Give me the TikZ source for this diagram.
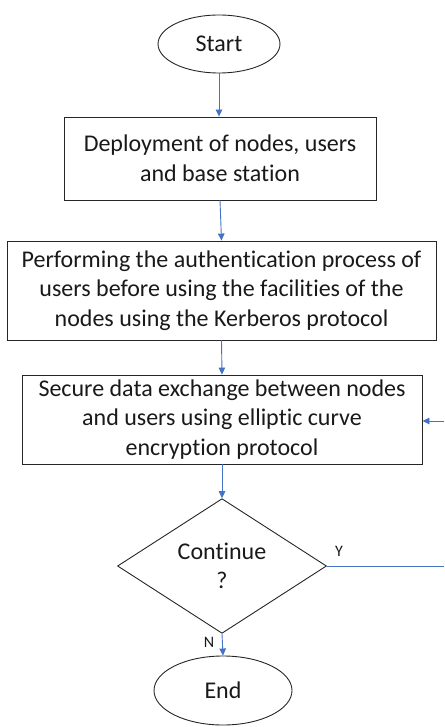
\documentclass[tikz,border=0pt]{standalone}
\usepackage{fontspec}
\setmainfont[Ligatures=NoCommon]{Carlito}
\usetikzlibrary{shapes.geometric,arrows.meta}
\begin{document}
\begin{tikzpicture}[x=1pt,y=-1pt,
  txt/.style={font=\fontsize{24}{29.5}\selectfont,align=center,text=black!90},
  stepbox/.style={txt,draw=black!85,line width=0.9pt,rectangle,inner sep=0pt},
  term/.style={txt,draw=black!85,line width=0.9pt,ellipse,inner sep=0pt},
  decide/.style={txt,draw=black!85,line width=0.9pt,diamond,inner sep=0pt},
  flow/.style={draw={rgb,255:red,68;green,114;blue,196},line width=0.9pt},
  arr/.style={flow,-{Triangle[length=7pt,width=6.5pt]}},
  lbl/.style={font=\fontsize{16}{18}\selectfont,text=black!90}
]
\useasboundingbox (0,0) rectangle (444,727);
\node[term,minimum width=122pt,minimum height=58pt] (start) at (219,44) {Start};
\node[stepbox,minimum width=312pt,minimum height=83pt] (b1) at (220,158.5)
  {Deployment of nodes, users\\and base station};
\node[stepbox,minimum width=429pt,minimum height=99pt] (b2) at (221.5,290.5)
  {Performing the authentication process of\\users before using the facilities of the\\nodes using the Kerberos protocol};
\node[stepbox,minimum width=400pt,minimum height=89pt] (b3) at (222,419.5)
  {Secure data exchange between nodes\\and users using elliptic curve\\encryption protocol};
\node[decide,minimum width=209pt,minimum height=116pt] (d) at (222,566)
  {Continue\\?};
\node[term,minimum width=138pt,minimum height=69pt] (end) at (223,690.5) {End};
\coordinate (yout) at (444,566);
\coordinate (yin) at (444,421);
\draw[arr] (start.south) -- (start.south |- b1.north);
\draw[arr] (b1.south) -- (b2.north);
\draw[arr] (b2.south) -- (b3.north);
\draw[arr] (b3.south) -- (d.north);
\draw[arr] (d.south) -- (end.north);
\draw[flow] (d.east) -- (yout);
\draw[arr] (yin) -- (b3.east |- yin);
\node[lbl] (ylbl) at (339,551) {Y};
\node[lbl] (nlbl) at (209,642) {N};
\end{tikzpicture}
\end{document}
